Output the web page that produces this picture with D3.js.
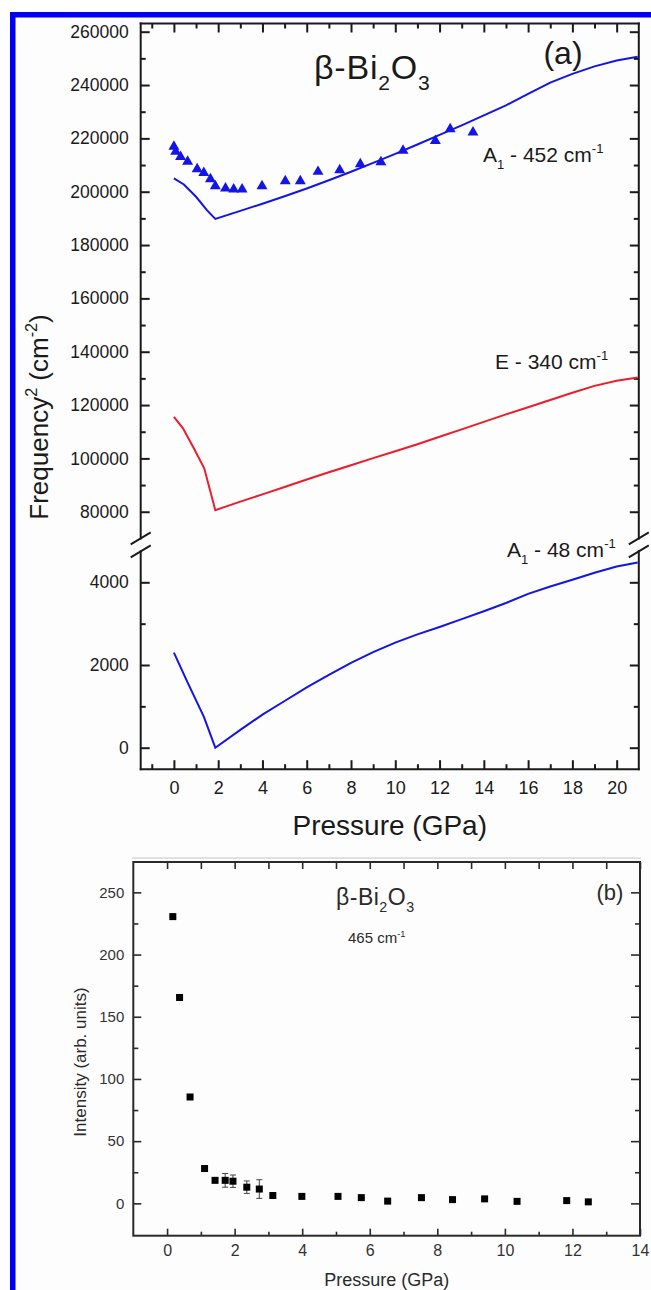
<!DOCTYPE html>
<html>
<head>
<meta charset="utf-8">
<script src="https://cdn.jsdelivr.net/npm/d3@7"></script>
<style>
  html, body { margin: 0; padding: 0; background: #ffffff; }
  svg { display: block; }
</style>
</head>
<body>
<svg id="fig" width="651" height="1290"></svg>
<script>
// ---------- Panel (a): squared Raman frequencies vs pressure ----------
// Measured A1 mode near 452 cm-1 (triangles)
const expPressure452 = [0.0, 0.08, 0.3, 0.62, 1.05, 1.35, 1.65, 1.87, 2.33, 2.7, 3.08,
                        3.98, 5.03, 5.71, 6.51, 7.49, 8.42, 9.35, 10.35, 11.81, 12.48, 13.51];
const expFreq2_452    = [216900, 215000, 213100, 211300, 208500, 207100, 204700, 202100, 201300, 200900, 200900,
                        202100, 204000, 204000, 207500, 208100, 210400, 211100, 215400, 219100, 223500, 222300];

// Calculated A1 mode, 452 cm-1
const calcPressure452 = [0, 0.45, 1.0, 1.5, 1.87, 3, 4, 5, 6, 7, 8, 9, 10, 11, 12, 13, 14, 15, 16, 17, 18, 19, 20, 20.95];
const calcFreq2_452   = [205000, 202700, 198100, 193000, 189800, 192800, 195500, 198300, 201200, 204300, 207500,
                         210800, 214200, 217700, 221300, 224900, 228600, 232400, 236700, 240900, 244200, 247000, 249200, 250600];

// Calculated E mode, 340 cm-1
const calcPressure340 = [0, 0.41, 0.9, 1.37, 1.87, 3, 4, 5, 6, 7, 8, 9, 10, 11, 12, 13, 14, 15, 16, 17, 18, 19, 20, 20.95];
const calcFreq2_340   = [115600, 111300, 103800, 96300, 80600, 83800, 86500, 89300, 92100, 94800, 97400,
                         100100, 102700, 105300, 108100, 110900, 113700, 116500, 119200, 121900, 124600, 127200, 129100, 130300];

// Calculated A1 soft mode, 48 cm-1
const calcPressure48 = [0, 0.6, 1.35, 1.87, 3, 4, 5, 6, 7, 8, 9, 10, 11, 12, 13, 14, 15, 16, 17, 18, 19, 20, 20.95];
const calcFreq2_48   = [2300, 1600, 750, 0, 430, 800, 1130, 1460, 1760, 2050, 2310, 2540, 2740, 2920, 3110,
                        3300, 3500, 3720, 3900, 4060, 4230, 4380, 4480];

// Tick values, panel (a)
const xMajorA = [0, 2, 4, 6, 8, 10, 12, 14, 16, 18, 20];
const xMinorA = [-1, 1, 3, 5, 7, 9, 11, 13, 15, 17, 19];
const yMajorUp = [80000, 100000, 120000, 140000, 160000, 180000, 200000, 220000, 240000, 260000];
const yMinorUp = [90000, 110000, 130000, 150000, 170000, 190000, 210000, 230000, 250000];
const yMajorLow = [0, 2000, 4000];
const yMinorLow = [1000, 3000];

// ---------- Panel (b): intensity of the 465 cm-1 band ----------
const pressureB  = [0.17, 0.37, 0.68, 1.11, 1.42, 1.72, 1.95, 2.36, 2.73, 3.13, 3.99, 5.06, 5.75, 6.53,
                    7.53, 8.45, 9.4, 10.36, 11.83, 12.47];
const intensityB = [230.5, 165.5, 85.5, 28, 18.5, 18.5, 17.8, 13, 11.5, 6.3, 5.6, 5.6, 4.6, 1.8,
                    4.6, 3, 3.6, 1.6, 2.2, 1.2];
const errorB     = [0, 0, 0, 0, 0, 5.5, 5, 5, 7.5, 0, 0, 0, 0, 0, 0, 0, 0, 0, 0, 0];

const xMajorB = [0, 2, 4, 6, 8, 10, 12, 14];
const xMinorB = [1, 3, 5, 7, 9, 11, 13];
const yMajorB = [0, 50, 100, 150, 200, 250];
const yMinorB = [25, 75, 125, 175, 225];

// ---------- drawing ----------
const FONT = "'Liberation Sans', Arial, Helvetica, sans-serif";
const BLUE = "#1414e6";
const RED = "#ec1c2a";
const INK = "#1a1a1a";

const svg = d3.select("#fig").attr("font-family", FONT);

svg.append("rect").attr("width", 651).attr("height", 1290).attr("fill", "#ffffff");
svg.append("rect").attr("x", 15).attr("y", 17).attr("width", 636).attr("height", 1273).attr("fill", "#fdfdfd");

// journal frame: blue bars on the top and left
svg.append("rect").attr("x", 10).attr("y", 12).attr("width", 641).attr("height", 5.5).attr("fill", "#0000f5");
svg.append("rect").attr("x", 10).attr("y", 12).attr("width", 5.5).attr("height", 1278).attr("fill", "#0000f5");

// text with sub/superscripts
function rich(textSel, parts, fs) {
  let shift = 0;
  parts.forEach(p => {
    const target = p.sub ? fs * 0.32 : (p.sup ? -fs * 0.42 : 0);
    const ts = textSel.append("tspan")
      .attr("dy", (target - shift).toFixed(2))
      .attr("font-size", (p.sub || p.sup) ? fs * 0.62 : fs)
      .text(p.t);
    shift = target;
  });
  return textSel;
}

function styleAxis(g, fs, color) {
  g.select(".domain").remove();
  g.selectAll(".tick line").attr("stroke", INK).attr("stroke-width", 2);
  g.selectAll(".tick text").attr("font-size", fs).attr("font-family", FONT).attr("fill", color);
}

// ================= Panel (a) =================
const xA = d3.scaleLinear().domain([-1.5, 21]).range([140.7, 638.8]);
const yUp = d3.scaleLinear().domain([70000, 263075]).range([538.4, 23.5]);
const yLow = d3.scaleLinear().domain([-520, 4750]).range([769.2, 551.3]);

const gA = svg.append("g");
const [aL, aR] = xA.range();
const [upB, upT] = yUp.range();
const [lowB, lowT] = yLow.range();

const defs = svg.append("defs");
defs.append("clipPath").attr("id", "clipUp").append("rect")
  .attr("x", aL).attr("y", upT).attr("width", aR - aL).attr("height", upB - upT);
defs.append("clipPath").attr("id", "clipLow").append("rect")
  .attr("x", aL).attr("y", lowT).attr("width", aR - aL).attr("height", lowB - lowT);

// bottom axis with labels
gA.append("g").attr("transform", `translate(0,${lowB})`)
  .call(d3.axisBottom(xA).tickValues(xMajorA).tickSizeInner(-9).tickSizeOuter(0).tickPadding(12).tickFormat(d3.format("d")))
  .call(g => styleAxis(g, 18, INK));
gA.append("g").attr("transform", `translate(0,${lowB})`)
  .call(d3.axisBottom(xA).tickValues(xMinorA).tickSizeInner(-5).tickSizeOuter(0).tickFormat(""))
  .call(g => styleAxis(g, 18, INK));
// top axis (ticks only)
gA.append("g").attr("transform", `translate(0,${upT})`)
  .call(d3.axisTop(xA).tickValues(xMajorA).tickSizeInner(-9).tickSizeOuter(0).tickFormat(""))
  .call(g => styleAxis(g, 18, INK));
gA.append("g").attr("transform", `translate(0,${upT})`)
  .call(d3.axisTop(xA).tickValues(xMinorA).tickSizeInner(-5).tickSizeOuter(0).tickFormat(""))
  .call(g => styleAxis(g, 18, INK));

// left axes (upper and lower segments)
gA.append("g").attr("transform", `translate(${aL},0)`)
  .call(d3.axisLeft(yUp).tickValues(yMajorUp).tickSizeInner(-9).tickSizeOuter(0).tickPadding(12).tickFormat(d3.format("d")))
  .call(g => styleAxis(g, 17.5, INK));
gA.append("g").attr("transform", `translate(${aL},0)`)
  .call(d3.axisLeft(yUp).tickValues(yMinorUp).tickSizeInner(-5).tickSizeOuter(0).tickFormat(""))
  .call(g => styleAxis(g, 17.5, INK));
gA.append("g").attr("transform", `translate(${aL},0)`)
  .call(d3.axisLeft(yLow).tickValues(yMajorLow).tickSizeInner(-9).tickSizeOuter(0).tickPadding(12).tickFormat(d3.format("d")))
  .call(g => styleAxis(g, 17.5, INK));
gA.append("g").attr("transform", `translate(${aL},0)`)
  .call(d3.axisLeft(yLow).tickValues(yMinorLow).tickSizeInner(-5).tickSizeOuter(0).tickFormat(""))
  .call(g => styleAxis(g, 17.5, INK));
// right axes (ticks only)
[[yUp, yMajorUp, 9], [yUp, yMinorUp, 5], [yLow, yMajorLow, 9], [yLow, yMinorLow, 5]].forEach(([s, v, len]) => {
  gA.append("g").attr("transform", `translate(${aR},0)`)
    .call(d3.axisRight(s).tickValues(v).tickSizeInner(-len).tickSizeOuter(0).tickFormat(""))
    .call(g => styleAxis(g, 17.5, INK));
});

// frame with the broken y axis
const frameA = [
  [aL, upT, aR, upT], [aL, lowB, aR, lowB],
  [aL, upT, aL, upB], [aL, lowT, aL, lowB],
  [aR, upT, aR, upB], [aR, lowT, aR, lowB]
];
gA.selectAll("line.frame").data(frameA).join("line").attr("class", "frame")
  .attr("x1", d => d[0]).attr("y1", d => d[1]).attr("x2", d => d[2]).attr("y2", d => d[3])
  .attr("stroke", INK).attr("stroke-width", 2).attr("stroke-linecap", "square");

// break marks
const breaks = [];
[aL, aR].forEach(x => [upB, lowT].forEach(y => breaks.push([x, y])));
gA.selectAll("line.brk").data(breaks).join("line").attr("class", "brk")
  .attr("x1", d => d[0] - 10).attr("y1", d => d[1] + 6)
  .attr("x2", d => d[0] + 10).attr("y2", d => d[1] - 6)
  .attr("stroke", INK).attr("stroke-width", 2);

// curves
const lineUp = d3.line().x(d => xA(d[0])).y(d => yUp(d[1]));
const lineLow = d3.line().x(d => xA(d[0])).y(d => yLow(d[1]));

gA.append("path").datum(d3.zip(calcPressure452, calcFreq2_452))
  .attr("d", lineUp).attr("fill", "none").attr("stroke", BLUE).attr("stroke-width", 2)
  .attr("clip-path", "url(#clipUp)");
gA.append("path").datum(d3.zip(calcPressure340, calcFreq2_340))
  .attr("d", lineUp).attr("fill", "none").attr("stroke", RED).attr("stroke-width", 2)
  .attr("clip-path", "url(#clipUp)");
gA.append("path").datum(d3.zip(calcPressure48, calcFreq2_48))
  .attr("d", lineLow).attr("fill", "none").attr("stroke", BLUE).attr("stroke-width", 2)
  .attr("clip-path", "url(#clipLow)");

// measured points
const tri = d3.symbol().type(d3.symbolTriangle).size(52);
gA.selectAll("path.tri").data(d3.zip(expPressure452, expFreq2_452)).join("path").attr("class", "tri")
  .attr("d", tri)
  .attr("transform", d => `translate(${xA(d[0])},${yUp(d[1])})`)
  .attr("fill", BLUE);

// labels, panel (a)
rich(gA.append("text").attr("x", 314).attr("y", 79).attr("fill", INK).attr("letter-spacing", 0.8),
  [{t: "\u03B2-Bi"}, {t: "2", sub: true}, {t: "O"}, {t: "3", sub: true}], 34);
gA.append("text").attr("x", 563).attr("y", 64).attr("text-anchor", "middle")
  .attr("font-size", 32).attr("fill", INK).text("(a)");
rich(gA.append("text").attr("x", 483).attr("y", 162).attr("fill", INK),
  [{t: "A"}, {t: "1", sub: true}, {t: " - 452 cm"}, {t: "-1", sup: true}], 21);
rich(gA.append("text").attr("x", 495).attr("y", 369).attr("fill", INK),
  [{t: "E - 340 cm"}, {t: "-1", sup: true}], 21);
rich(gA.append("text").attr("x", 507).attr("y", 557).attr("fill", INK),
  [{t: "A"}, {t: "1", sub: true}, {t: " - 48 cm"}, {t: "-1", sup: true}], 21);

gA.append("text").attr("x", (aL + aR) / 2).attr("y", 835).attr("text-anchor", "middle")
  .attr("font-size", 28).attr("fill", INK).text("Pressure (GPa)");
rich(gA.append("text").attr("transform", "translate(48,417) rotate(-90)").attr("text-anchor", "middle").attr("fill", INK),
  [{t: "Frequency"}, {t: "2", sup: true}, {t: " (cm"}, {t: "-2", sup: true}, {t: ")"}], 26);

// ================= Panel (b) =================
svg.append("line").attr("x1", 132).attr("x2", 641).attr("y1", 858).attr("y2", 858)
  .attr("stroke", "#c4c4c4").attr("stroke-width", 1);

const xB = d3.scaleLinear().domain([-1, 14]).range([133.3, 640]);
const yB = d3.scaleLinear().domain([-26, 274.4]).range([1235.7, 862]);
const [bL, bR] = xB.range();
const [bB, bT] = yB.range();
const INKB = "#2a2a2a";
const gB = svg.append("g");

function styleAxisB(g, fs) {
  g.select(".domain").remove();
  g.selectAll(".tick line").attr("stroke", INKB).attr("stroke-width", 1.6);
  g.selectAll(".tick text").attr("font-size", fs).attr("font-family", FONT).attr("fill", "#333");
}

gB.append("g").attr("transform", `translate(0,${bB})`)
  .call(d3.axisBottom(xB).tickValues(xMajorB).tickSizeInner(-7).tickSizeOuter(0).tickPadding(9).tickFormat(d3.format("d")))
  .call(g => styleAxisB(g, 16));
gB.append("g").attr("transform", `translate(0,${bB})`)
  .call(d3.axisBottom(xB).tickValues(xMinorB).tickSizeInner(-4).tickSizeOuter(0).tickFormat(""))
  .call(g => styleAxisB(g, 16));
gB.append("g").attr("transform", `translate(0,${bT})`)
  .call(d3.axisTop(xB).tickValues(xMajorB).tickSizeInner(-7).tickSizeOuter(0).tickFormat(""))
  .call(g => styleAxisB(g, 16));
gB.append("g").attr("transform", `translate(0,${bT})`)
  .call(d3.axisTop(xB).tickValues(xMinorB).tickSizeInner(-7).tickSizeOuter(0).tickFormat(""))
  .call(g => styleAxisB(g, 16));
gB.append("g").attr("transform", `translate(${bL},0)`)
  .call(d3.axisLeft(yB).tickValues(yMajorB).tickSizeInner(-8).tickSizeOuter(0).tickPadding(9).tickFormat(d3.format("d")))
  .call(g => styleAxisB(g, 15));
gB.append("g").attr("transform", `translate(${bL},0)`)
  .call(d3.axisLeft(yB).tickValues(yMinorB).tickSizeInner(-5).tickSizeOuter(0).tickFormat(""))
  .call(g => styleAxisB(g, 15));
gB.append("g").attr("transform", `translate(${bR},0)`)
  .call(d3.axisRight(yB).tickValues(yMajorB).tickSizeInner(-9).tickSizeOuter(0).tickFormat(""))
  .call(g => styleAxisB(g, 15));
gB.append("g").attr("transform", `translate(${bR},0)`)
  .call(d3.axisRight(yB).tickValues(yMinorB).tickSizeInner(-5).tickSizeOuter(0).tickFormat(""))
  .call(g => styleAxisB(g, 15));

gB.append("rect").attr("x", bL).attr("y", bT).attr("width", bR - bL).attr("height", bB - bT)
  .attr("fill", "none").attr("stroke", INKB).attr("stroke-width", 2);

const ptsB = pressureB.map((p, i) => ({p, v: intensityB[i], e: errorB[i]}));
const errG = gB.selectAll("g.err").data(ptsB.filter(d => d.e > 0)).join("g").attr("class", "err")
  .attr("stroke", "#444").attr("stroke-width", 1);
errG.append("line").attr("x1", d => xB(d.p)).attr("x2", d => xB(d.p))
  .attr("y1", d => yB(d.v - d.e)).attr("y2", d => yB(d.v + d.e));
errG.append("line").attr("x1", d => xB(d.p) - 3).attr("x2", d => xB(d.p) + 3)
  .attr("y1", d => yB(d.v + d.e)).attr("y2", d => yB(d.v + d.e));
errG.append("line").attr("x1", d => xB(d.p) - 3).attr("x2", d => xB(d.p) + 3)
  .attr("y1", d => yB(d.v - d.e)).attr("y2", d => yB(d.v - d.e));

const sq = 7;
gB.selectAll("rect.pt").data(ptsB).join("rect").attr("class", "pt")
  .attr("x", d => xB(d.p) - sq / 2).attr("y", d => yB(d.v) - sq / 2)
  .attr("width", sq).attr("height", sq).attr("fill", "#000");

rich(gB.append("text").attr("x", 336).attr("y", 905).attr("fill", INKB).attr("letter-spacing", 0.5),
  [{t: "\u03B2-Bi"}, {t: "2", sub: true}, {t: "O"}, {t: "3", sub: true}], 23);
rich(gB.append("text").attr("x", 348).attr("y", 943).attr("fill", INKB),
  [{t: "465 cm"}, {t: "-1", sup: true}], 15);
gB.append("text").attr("x", 610).attr("y", 900).attr("text-anchor", "middle")
  .attr("font-size", 22).attr("fill", INKB).text("(b)");
gB.append("text").attr("x", (bL + bR) / 2).attr("y", 1286).attr("text-anchor", "middle")
  .attr("font-size", 18).attr("fill", INKB).text("Pressure (GPa)");
gB.append("text").attr("transform", "translate(86,1062) rotate(-90)").attr("text-anchor", "middle")
  .attr("font-size", 17).attr("fill", INKB).text("Intensity (arb. units)");
</script>
</body>
</html>
